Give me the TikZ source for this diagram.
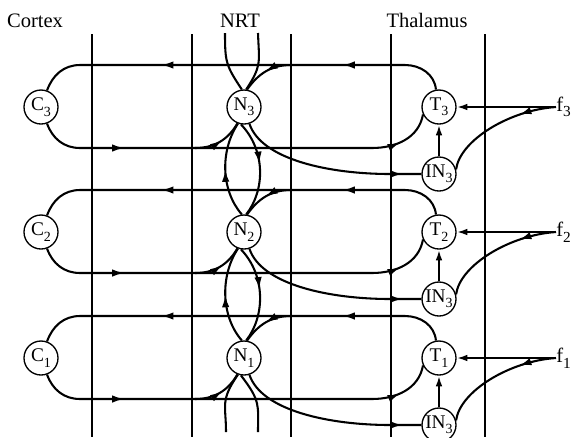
\documentclass[tikz,border=0pt]{standalone}
\usepackage{fontspec}
\setmainfont{Liberation Serif}
\usetikzlibrary{arrows.meta,decorations.markings}
% lowered index used in the cell names (C_3, N_2, ...)
\newcommand\lowidx[2][10.5]{\raisebox{-0.6ex}{\fontsize{#1}{#1}\selectfont #2}}
\tikzset{
  headtip/.tip={Latex[length=8pt,width=5pt]},
  link/.style={line width=1.55pt},
  arrowat/.style={postaction={decorate,decoration={markings,
      mark=at position #1 with {\arrow{Latex[length=9pt,width=5.6pt]}}}}},
  cell/.style={circle,draw,line width=1pt,fill=white,minimum size=25.5pt,
      inner sep=0pt,font=\fontsize{14.5}{15}\selectfont},
  lab/.style={font=\fontsize{15.4}{17}\selectfont,inner sep=0pt},
  divider/.style={line width=0.8pt},
}
\begin{document}
\begin{tikzpicture}[x=0.75pt,y=0.75pt]
\useasboundingbox (0,0) rectangle (578,-437);

% column headings
\node[lab,anchor=base] (cortex) at (35,-27) {Cortex};
\node[lab,anchor=base] (nrt) at (240,-27) {NRT};
\node[lab,anchor=base] (thal) at (427,-27) {Thalamus};

% column dividers
\foreach \x [count=\i] in {92,192,291,391,485} {
  \coordinate (dtop\i) at (\x,-34);
  \coordinate (dbot\i) at (\x,-437);
  \draw[divider] (dtop\i) -- (dbot\i);
}

% one cortico-thalamic loop per row
\foreach \r/\c in {3/107, 2/232, 1/358} {
  \pgfmathsetmacro\yt{-\c+42}
  \pgfmathsetmacro\yb{-\c-41}
  \pgfmathsetmacro\yi{-\c-67}
  \node[cell] (C\r) at (41,-\c) {C\lowidx{\r}};
  \node[cell] (N\r) at (244,-\c) {N\lowidx{\r}};
  \node[cell] (T\r) at (439,-\c) {T\lowidx{\r}};
  \node[cell] (I\r) at (439,\yi) {IN\lowidx{3}};
  \node[lab,anchor=west] (f\r) at (556,-\c) {f\lowidx[11.5]{\r}};
  \coordinate (tb\r) at (291,\yt);
  \coordinate (bb\r) at (195,\yb);

  % thalamus -> cortex (upper track)
  \draw[link,arrowat=0.256,arrowat=0.695] (T\r.100) to[out=95,in=0] (405,\yt)
      -- (80,\yt) to[out=180,in=70] (C\r.70);
  \draw[link,arrowat=0.5] (tb\r) to[out=180,in=55] (N\r.80);
  % cortex -> thalamus (lower track)
  \draw[link,arrowat=0.219,arrowat=0.905] (C\r.-70) to[out=-70,in=180] (80,\yb)
      -- (372,\yb) to[out=0,in=-100] (T\r.205);
  \draw[link,arrowat=0.55] (bb\r) to[out=0,in=-120] (N\r.-112);
  % NRT -> interneuron
  \draw[link,arrowat=0.9] (N\r.-72) .. controls +(12,-36) and (330,\yi) .. (390,\yi)
      -- (I\r.west);
  \draw[link,-headtip] (I\r) -- (T\r);
  % sensory input
  \draw[link,-headtip] (f\r.west) -- (T\r);
  \draw[link,arrowat=0.3] (f\r.west) .. controls +(-46,-3) and (460,{-\c-33}) .. (I\r.15);
}

% reciprocal links inside the NRT
\foreach \a/\b in {3/2, 2/1} {
  \draw[link,arrowat=0.45] (N\a.-100) .. controls +(25,-26) and +(19,24) .. (N\b.83);
  \draw[link,arrowat=0.5] (N\b.97) .. controls +(-21,24) and +(-18,-27) .. (N\a.-110);
}
\coordinate (nup1) at (258,-33);
\coordinate (nup2) at (225,-33);
\coordinate (ndn1) at (258,-432);
\coordinate (ndn2) at (226,-432);
\draw[link] (nup1) .. controls (259,-62) and +(16,24) .. (N3.83);
\draw[link] (N3.97) .. controls +(-16,24) and (225,-62) .. (nup2);
\draw[link] (N1.-100) .. controls +(20,-26) and (258,-405) .. (ndn1);
\draw[link] (ndn2) .. controls (226,-405) and +(-18,-26) .. (N1.-110);
\end{tikzpicture}
\end{document}
